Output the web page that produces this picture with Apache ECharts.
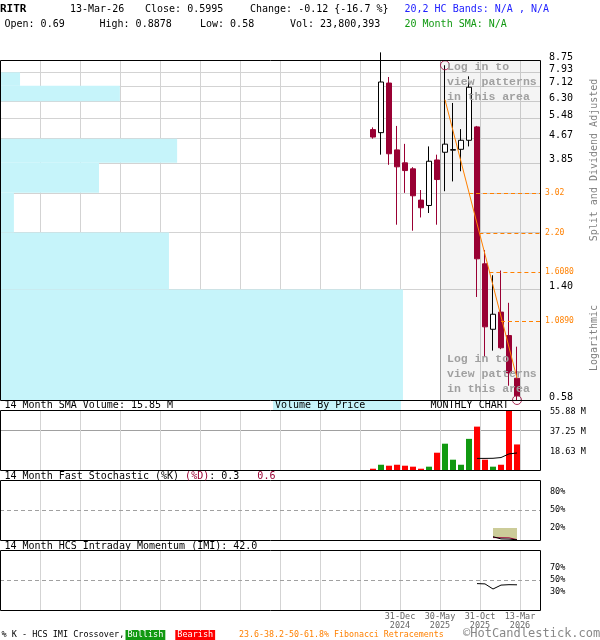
<!DOCTYPE html>
<html><head><meta charset="utf-8">
<script src="https://cdn.jsdelivr.net/npm/echarts@6/dist/echarts.min.js"></script>
<style>html,body{margin:0;padding:0;background:#fff}#c{width:600px;height:640px}</style>
</head><body><div id="c"></div>
<script>
// ---------- DATA ----------
// month index: Dec 2024 = 0
const monthLabels = ['Sep-24','Oct-24','Nov-24','Dec-24','Jan-25','Feb-25','Mar-25','Apr-25','May-25','Jun-25','Jul-25','Aug-25','Sep-25','Oct-25','Nov-25','Dec-25','Jan-26','Feb-26','Mar-26'];
const monthIndex = [-3,-2,-1,0,1,2,3,4,5,6,7,8,9,10,11,12,13,14,15];
const opens  = [5.02,4.90,7.28,4.27,3.85,3.67,2.86,2.74,3.94,4.19,4.26,4.29,4.61,5.13,1.72,1.02,1.17,0.97,0.69];
const closes = [4.73,7.34,4.14,3.73,3.62,2.96,2.69,3.90,3.37,4.47,4.28,4.61,7.04,1.79,1.04,1.15,0.88,0.72,0.5995];
const lows   = [4.67,4.11,3.79,2.35,3.03,2.24,2.49,2.58,2.35,3.07,3.32,3.60,4.39,1.32,0.82,0.86,0.87,0.65,0.58];
const highs  = [5.11,9.30,7.64,5.17,4.48,3.72,3.10,4.39,4.11,8.39,6.21,5.04,7.68,5.17,1.92,1.57,1.63,1.26,0.8878];
const volumes = [1.2,4.9,4.0,4.9,4.0,3.1,1.2,3.1,16.1,24.5,9.6,4.9,29.0,40.4,9.6,3.1,4.9,57.0,23.8]; // millions

const smaVolIndex = [10,11,12,13,14,15];
const smaVol = [10.8,10.8,10.9,11.6,15.0,15.85];

const stochIndex = [12,13,14,15];
const stochK = [5.5,1.8,1.5,0.3];
const stochD = [4.0,3.8,3.6,0.6];

const imiIndex = [10,11,12,13,14,15];
const imi = [44.0,43.5,35.0,41.5,42.2,42.0];

// volume by price (millions, estimated) per price band
const vbpLow  = [7.93,7.12,6.30,5.48,4.67,3.85,3.03,2.21,1.40,0.58];
const vbpHigh = [8.75,7.93,7.12,6.30,5.48,4.67,3.85,3.03,2.21,1.40];
const vbpVol  = [0,4.9,29.3,0,0,43.3,24.2,3.4,41.3,98.5];

// fibonacci retracement levels
const fibLevels = [3.02,2.20,1.608,1.089];
const fibLabels = ['3.02','2.20','1.6080','1.0890'];
const fibStart  = [9.0,10.3,11.55,13.0];
const fibTrend  = [[6,6.37],[15,0.69]];
const markedPoints = [[6,8.39],[15,0.58]];

// axis ticks
const priceGridLevels = [0.58,1.40,2.21,3.03,3.85,4.67,5.48,6.30,7.12,7.93,8.75];
const priceLabelLevels = [0.58,1.40,3.85,4.67,5.48,6.30,7.12,7.93,8.75];
const volTicks = [18.63,37.25,55.88];
const dateTickValues = [0.375,5.375,10.375,15.375];
const dateTickLabels = ['31-Dec\n2024','30-May\n2025','31-Oct\n2025','13-Mar\n2026'];

// ---------- CHART ----------
const MONO = "'DejaVu Sans Mono', monospace";
const X_MIN = -49.625, X_MAX = 17.875, PATTERN_START = 5.375, VBP_MAX = 132;
const RED = '#990033', ORANGE = '#ff8000';

function xAx(grid, labels) {
  const a = {
    type:'value', gridIndex:grid, min:X_MIN, max:X_MAX, interval:5,
    axisLine:{show:false}, axisTick:{show:false},
    splitLine:{show:true, showMinLine:false, showMaxLine:false, lineStyle:{color:'#d3d3d3', width:1}},
    axisLabel:{show:false}
  };
  if (labels) {
    a.axisLabel = {
      show:true, customValues:dateTickValues, margin:2, fontSize:8.5, lineHeight:9,
      fontFamily:MONO, color:'#666',
      formatter:(v)=>{const i = dateTickValues.findIndex(t=>Math.abs(t-v)<0.02); return i>=0?dateTickLabels[i]:'';}
    };
  }
  return a;
}
function pctY(grid, ticks, labels) {
  return {
    type:'value', gridIndex:grid, min:0, max:100, position:'right',
    axisLine:{show:false}, axisTick:{show:false, customValues:ticks},
    splitLine:{show:true, showMinLine:false, showMaxLine:false, lineStyle:{color:'#a0a0a0', width:1}},
    axisLabel:{customValues:labels, formatter:(v)=>v+'%', margin:10, fontSize:8.5, fontFamily:MONO, color:'#000'}
  };
}

const candleData = monthIndex.map((m,i)=>[m, opens[i], closes[i], lows[i], highs[i]]);
const volData = monthIndex.map((m,i)=>({value:[m, volumes[i]], itemStyle:{color: closes[i] >= opens[i] ? '#119911' : '#ff0000'}}));
const vbpData = vbpVol.map((v,i)=>[v, vbpLow[i], vbpHigh[i]]).filter(d=>d[0]>0);

const fibMarks = fibLevels.map((lv,i)=>[
  {coord:[fibStart[i], lv], lineStyle:{color:ORANGE, type:[4,3], width:1},
   label:{show:true, position:'end', formatter:()=>fibLabels[i], color:ORANGE, fontSize:8, fontFamily:MONO, distance:5}},
  {coord:[X_MAX, lv]}
]);
fibMarks.push({xAxis:PATTERN_START, lineStyle:{color:'#a0a0a0', type:'solid', width:1}, label:{show:false}});

const dash50 = {silent:true, symbol:['none','none'], animation:false, label:{show:false},
  lineStyle:{color:'#a0a0a0', type:[4,3], width:1}, data:[{yAxis:50}]};

function T(x, y, text, size, color, extra) {
  return {type:'text', x:x, y:y, z:100, silent:true,
    style:Object.assign({text:text, fill:color||'#000', fontSize:size||10, fontFamily:MONO, align:'left', verticalAlign:'middle'}, extra||{})};
}
function box(y, h) {
  return {type:'rect', z:100, silent:true, shape:{x:0.5, y:y+0.5, width:540, height:h}, style:{fill:'none', stroke:'#000', lineWidth:1}};
}
const loginStyle = {fontWeight:'bold', fontFamily:"'Liberation Mono', monospace", fontSize:11.5, lineHeight:15, verticalAlign:'top'};

const graphics = [
  box(60,340), box(410,60), box(480,60), box(550,60),
  T(0, 9, 'RITR', 11, '#000', {fontWeight:'bold'}),
  T(70, 9, '13-Mar-26'),
  T(145, 9, 'Close: 0.5995'),
  T(250, 9, 'Change: -0.12 {-16.7 %}'),
  T(404.5, 9, '20,2 HC Bands: N/A , N/A', 10, '#2222ff'),
  T(4.5, 24, 'Open: 0.69'),
  T(99.5, 24, 'High: 0.8878'),
  T(200, 24, 'Low: 0.58'),
  T(290, 24, 'Vol: 23,800,393'),
  T(404.5, 24, '20 Month SMA: N/A', 10, '#119911'),
  {type:'rect', z:99, silent:true, shape:{x:273, y:401, width:128, height:9}, style:{fill:'#c6f4fa'}},
  T(4.5, 405.5, '14 Month SMA Volume: 15.85 M'),
  T(275, 405.5, 'Volume By Price'),
  T(430.5, 405.5, 'MONTHLY CHART'),
  T(4.5, 476, '14 Month Fast Stochastic (%K) {r|(%D)}: 0.3   {r|0.6}', 10, '#000',
    {rich:{r:{fill:RED, fontSize:10, fontFamily:MONO}}}),
  T(4.5, 546.5, '14 Month HCS Intraday Momentum (IMI): 42.0'),
  T(447, 60, 'Log in to\nview patterns\nin this area', 11.5, '#a0a0a0', loginStyle),
  T(447, 352, 'Log in to\nview patterns\nin this area', 11.5, '#a0a0a0', loginStyle),
  {type:'text', x:594, y:160, rotation:Math.PI/2, z:100, silent:true,
    style:{text:'Split and Dividend Adjusted', fill:'#808080', fontSize:10, fontFamily:MONO, align:'center', verticalAlign:'middle'}},
  {type:'text', x:594, y:338, rotation:Math.PI/2, z:100, silent:true,
    style:{text:'Logarithmic', fill:'#808080', fontSize:10, fontFamily:MONO, align:'center', verticalAlign:'middle'}},
  T(1.5, 635, '% K - HCS IMI Crossover,', 8.5),
  T(125.5, 635, 'Bullish', 8.5, '#fff', {backgroundColor:'#119911', padding:[1,2,0,2]}),
  T(175.3, 635, 'Bearish', 8.5, '#fff', {backgroundColor:'#ff0000', padding:[1,2,0,2]}),
  T(239, 635, '23.6-38.2-50-61.8% Fibonacci Retracements', 8.3, ORANGE),
  T(463, 634, '\u00a9HotCandlestick.com', 12, '#888')
];

const option = {
  animation:false,
  backgroundColor:'#ffffff',
  grid:[
    {left:0, top:60, width:540, height:340, outerBoundsMode:'none', containLabel:false},
    {left:0, top:410, width:540, height:60, outerBoundsMode:'none', containLabel:false},
    {left:0, top:480, width:540, height:60, outerBoundsMode:'none', containLabel:false},
    {left:0, top:550, width:540, height:60, outerBoundsMode:'none', containLabel:false}
  ],
  xAxis:[
    xAx(0,false),
    {type:'value', gridIndex:0, min:0, max:VBP_MAX, show:false},
    xAx(1,false), xAx(2,false), xAx(3,true)
  ],
  yAxis:[
    {type:'log', gridIndex:0, min:0.58, max:8.75, position:'right',
     axisLine:{show:false}, axisTick:{show:false, customValues:priceGridLevels},
     splitLine:{show:true, showMinLine:false, showMaxLine:false, lineStyle:{color:'#d3d3d3', width:1}},
     axisLabel:{customValues:priceLabelLevels, formatter:(v)=>Number(v).toFixed(2), margin:9,
       fontSize:10, fontFamily:MONO, color:'#000', verticalAlign:'bottom', lineHeight:6}},
    {type:'value', gridIndex:1, min:0, max:55.88, position:'right',
     axisLine:{show:false}, axisTick:{show:false, customValues:volTicks},
     splitLine:{show:true, showMinLine:false, showMaxLine:false, lineStyle:{color:'#a0a0a0', width:1}},
     axisLabel:{customValues:volTicks, formatter:(v)=>Number(v).toFixed(2)+' M', margin:10,
       fontSize:8.5, fontFamily:MONO, color:'#000', verticalAlign:'top', lineHeight:4}},
    pctY(2,[20,80],[20,50,80]),
    pctY(3,[30,70],[30,50,70])
  ],
  series:[
    {type:'custom', name:'vbp', xAxisIndex:1, yAxisIndex:0, z:1, silent:true,
     encode:{x:0, y:[1,2]}, data:vbpData,
     renderItem:(params, api)=>{
       const p1 = api.coord([0, api.value(2)]);
       const p2 = api.coord([api.value(0), api.value(1)]);
       return {type:'rect', shape:{x:p1[0], y:p1[1], width:p2[0]-p1[0], height:p2[1]-p1[1]}, style:{fill:'#c6f4fa'}};
     }},
    {type:'candlestick', name:'price', xAxisIndex:0, yAxisIndex:0, z:3, barWidth:5, clip:true,
     encode:{x:0, y:[1,2,3,4]}, data:candleData,
     itemStyle:{color:'#ffffff', color0:RED, borderColor:'#000000', borderColor0:RED, borderWidth:1},
     markArea:{silent:true, itemStyle:{color:'rgba(0,0,0,0.045)'}, data:[[{xAxis:PATTERN_START},{xAxis:X_MAX}]]},
     markLine:{silent:true, symbol:['none','none'], animation:false, data:fibMarks}},
    {type:'line', name:'fibTrend', xAxisIndex:0, yAxisIndex:0, z:4, data:fibTrend, symbol:'none',
     lineStyle:{color:ORANGE, width:1}, silent:true},
    {type:'scatter', name:'marks', xAxisIndex:0, yAxisIndex:0, z:5, clip:false, data:markedPoints,
     symbol:'circle', symbolSize:9, itemStyle:{color:'rgba(0,0,0,0)', borderColor:RED, borderWidth:1}, silent:true},
    {type:'bar', name:'volume', xAxisIndex:2, yAxisIndex:1, barWidth:6, data:volData, silent:true},
    {type:'line', name:'smaVol', xAxisIndex:2, yAxisIndex:1, z:4, symbol:'none',
     data:smaVolIndex.map((m,i)=>[m, smaVol[i]]), lineStyle:{color:'#000', width:1}, silent:true},
    {type:'line', name:'%D', xAxisIndex:3, yAxisIndex:2, symbol:'none',
     data:stochIndex.map((m,i)=>[m, stochD[i]]), lineStyle:{color:RED, width:1},
     areaStyle:{origin:20, color:'#cccc99', opacity:1}, markLine:dash50, silent:true},
    {type:'line', name:'%K', xAxisIndex:3, yAxisIndex:2, z:4, symbol:'none',
     data:stochIndex.map((m,i)=>[m, stochK[i]]), lineStyle:{color:'#000', width:1}, silent:true},
    {type:'line', name:'IMI', xAxisIndex:4, yAxisIndex:3, symbol:'none',
     data:imiIndex.map((m,i)=>[m, imi[i]]), lineStyle:{color:'#000', width:1}, markLine:dash50, silent:true}
  ],
  graphic:{elements:graphics}
};
const chart = echarts.init(document.getElementById('c'), null, {renderer:'canvas', width:600, height:640});
chart.setOption(option);
</script>
</body></html>
